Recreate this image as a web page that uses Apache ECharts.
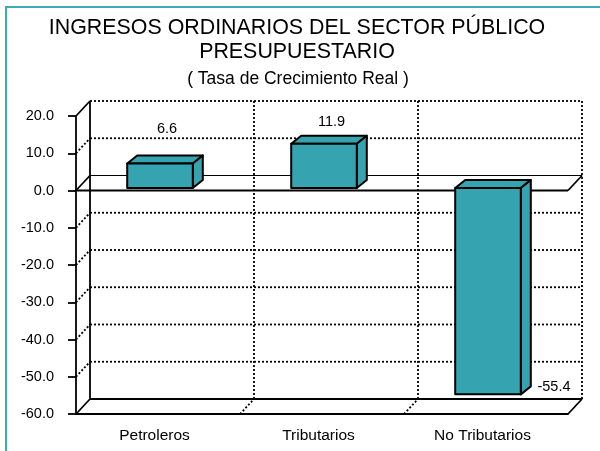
<!DOCTYPE html>
<html>
<head>
<meta charset="utf-8">
<title>Ingresos ordinarios</title>
<script src="https://cdn.jsdelivr.net/npm/echarts@6/dist/echarts.min.js"></script>
<style>
    html, body { margin: 0; padding: 0; background: #fff; }
    #chart { width: 600px; height: 451px; }
</style>
</head>
<body>
<div id="chart"></div>
<script>
var categories = ['Petroleros', 'Tributarios', 'No Tributarios'];
var values = [6.6, 11.9, -55.4];
var yTicks = [20, 10, 0, -10, -20, -30, -40, -50, -60];

var fontName = '"Liberation Sans", Arial, sans-serif';
var barColor = '#35a3b0';
// profundidad de las paredes y de las barras, en pixeles
var wallDx = 14, wallDy = 15;
var barDx = 10, barDy = 8;
var barShiftX = 2, barShiftY = -2.5;
var labelShift = [[7, -26], [7.5, -14], [66, -7]];

var myChart = echarts.init(document.getElementById('chart'));

function line(x1, y1, x2, y2, dotted, width) {
    return {
        type: 'line',
        shape: { x1: x1, y1: y1, x2: x2, y2: y2 },
        style: {
            stroke: '#000',
            lineWidth: width || 1.8,
            lineDash: dotted ? [2, 2] : null
        }
    };
}

// paredes: una linea por cada marca del eje y
function renderWall(params, api) {
    var tick = api.value(1);
    var band = api.size([1, 0])[0];
    var p = api.coord([0, tick]);
    var left = p[0] - band / 2;
    var right = left + band * categories.length;
    var y = p[1];
    var solid = tick === 0 || tick === yTicks[yTicks.length - 1];
    var children = [
        line(left, y, left + wallDx, y - wallDy, !solid && tick !== yTicks[0]),
        line(left + wallDx, y - wallDy, right + wallDx, y - wallDy, !solid, tick === 0 ? 1.2 : null)
    ];
    if (solid) {
        children.push(line(right, y, right + wallDx, y - wallDy, false));
    }
    if (tick === 0) {
        children.push(line(left, y, right, y, false));
    }
    return { type: 'group', children: children };
}

// divisiones verticales del fondo y del piso
function renderDivider(params, api) {
    var idx = api.value(0);
    var band = api.size([1, 0])[0];
    var x = api.coord([idx, 0])[0] + band / 2;
    var top = api.coord([0, yTicks[0]])[1];
    var bottom = api.coord([0, yTicks[yTicks.length - 1]])[1];
    var children = [line(x + wallDx, top - wallDy, x + wallDx, bottom - wallDy, true)];
    if (idx < categories.length - 1) {
        children.push(line(x, bottom, x + wallDx, bottom - wallDy, true));
    }
    if (idx === 0) {
        var left = x - band;
        children.push(line(left + wallDx, top - wallDy, left + wallDx, bottom - wallDy, false));
    }
    return { type: 'group', children: children };
}

function renderBar(params, api) {
    var v = api.value(1);
    var band = api.size([1, 0])[0];
    var w = band * 0.4;
    var center = api.coord([api.value(0), 0])[0];
    var x = center - w / 2 + barShiftX;
    var yTop = api.coord([0, Math.max(v, 0)])[1] + barShiftY;
    var yBot = api.coord([0, Math.min(v, 0)])[1] + barShiftY;
    var faceStyle = { fill: barColor, stroke: '#000', lineWidth: 2, lineJoin: 'round' };
    var shift = labelShift[params.dataIndex];
    var labelX = x + w / 2 + shift[0];
    var labelY = v >= 0 ? yTop - barDy + shift[1] : yBot + shift[1];
    return {
        type: 'group',
        children: [
            {
                type: 'polygon',
                shape: { points: [[x, yTop], [x + barDx, yTop - barDy], [x + w + barDx, yTop - barDy], [x + w, yTop]] },
                style: faceStyle
            },
            {
                type: 'polygon',
                shape: { points: [[x + w, yTop], [x + w + barDx, yTop - barDy], [x + w + barDx, yBot - barDy], [x + w, yBot]] },
                style: faceStyle
            },
            {
                type: 'rect',
                shape: { x: x, y: yTop, width: w, height: yBot - yTop },
                style: faceStyle
            },
            {
                type: 'text',
                style: {
                    x: labelX,
                    y: labelY,
                    text: v.toFixed(1),
                    fill: '#000',
                    font: '14.5px ' + fontName,
                    align: 'center',
                    verticalAlign: 'middle'
                }
            }
        ]
    };
}

var option = {
    animation: false,
    backgroundColor: '#fff',
    title: [
        {
            text: 'INGRESOS ORDINARIOS DEL SECTOR PÚBLICO\nPRESUPUESTARIO',
            left: 292,
            top: 11,
            textAlign: 'center',
            textStyle: {
                color: '#000',
                fontFamily: fontName,
                fontWeight: 'normal',
                fontSize: 21.4,
                lineHeight: 24
            }
        },
        {
            text: '( Tasa de Crecimiento Real )',
            left: 293,
            top: 65,
            textAlign: 'center',
            textStyle: {
                color: '#000',
                fontFamily: fontName,
                fontWeight: 'normal',
                fontSize: 17.5
            }
        }
    ],
    graphic: [
        {
            type: 'polyline',
            shape: { points: [[6, 451], [6, 7], [600, 7]] },
            style: { fill: null, stroke: '#3fa9b5', lineWidth: 2 }
        }
    ],
    grid: { left: 76, right: 32, top: 116, bottom: 37 },
    xAxis: {
        type: 'category',
        data: categories,
        axisLine: { onZero: false, lineStyle: { color: '#000', width: 1.8 } },
        axisTick: { alignWithLabel: true, length: 5, lineStyle: { color: '#000', width: 1.8 } },
        axisLabel: { color: '#000', fontFamily: fontName, fontSize: 15.5, margin: 14, padding: [0, 7, 0, 0] },
        splitLine: { show: false }
    },
    yAxis: {
        type: 'value',
        min: -60,
        max: 20,
        interval: 10,
        axisLine: { show: true, onZero: false, lineStyle: { color: '#000', width: 1.8 } },
        axisTick: { show: true, length: 8, lineStyle: { color: '#000', width: 1.8 } },
        axisLabel: {
            color: '#000',
            fontFamily: fontName,
            fontSize: 14.5,
            margin: 22,
            padding: [2, 0, 0, 0],
            formatter: function (val) { return val.toFixed(1); }
        },
        splitLine: { show: false }
    },
    series: [
        {
            type: 'custom',
            silent: true,
            z: 1,
            renderItem: renderWall,
            data: yTicks.map(function (t) { return [0, t]; })
        },
        {
            type: 'custom',
            silent: true,
            z: 1,
            renderItem: renderDivider,
            data: categories.map(function (c, i) { return [i, 0]; })
        },
        {
            type: 'custom',
            silent: true,
            z: 3,
            renderItem: renderBar,
            data: values.map(function (v, i) { return [i, v]; })
        }
    ]
};

myChart.setOption(option);
</script>
</body>
</html>
